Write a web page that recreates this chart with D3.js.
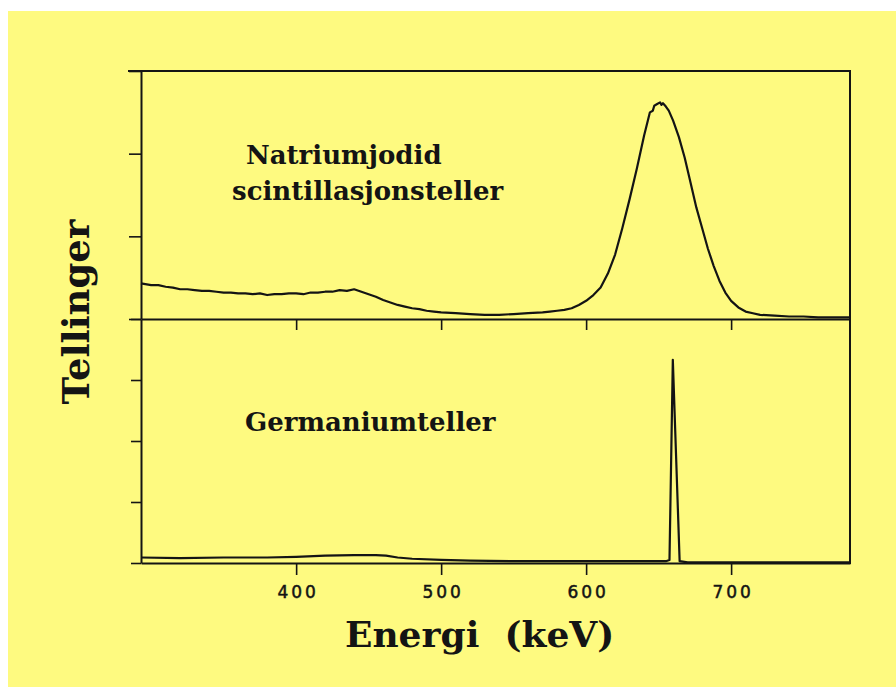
<!DOCTYPE html>
<html>
<head>
<meta charset="utf-8">
<script src="https://cdn.jsdelivr.net/npm/d3@7/dist/d3.min.js"></script>
<style>
  html, body { margin: 0; padding: 0; background: #ffffff; }
  svg { display: block; }
</style>
</head>
<body>
<script>
// NaI(Tl) scintillation spectrum (energy in keV, counts in relative units 0..3)
const naiEnergy = [293, 300, 305, 310, 315, 320, 325, 330, 335, 340, 345, 350, 355, 360, 365, 370, 375, 380, 385, 390,
  395, 400, 405, 410, 415, 420, 425, 430, 435, 440, 445, 450, 455, 460, 465, 470, 475, 480, 485, 490,
  495, 500, 510, 520, 530, 540, 550, 560, 570, 575, 580, 585, 590, 595, 600, 605, 610, 615, 620, 625,
  630, 635, 640, 644, 646, 647, 649, 651, 652, 653, 655, 657, 660, 664, 668, 672, 676, 680, 684, 688,
  692, 696, 700, 705, 710, 715, 720, 730, 740, 750, 760, 770, 782];
const naiCounts = [0.43, 0.41, 0.41, 0.39, 0.38, 0.36, 0.36, 0.35, 0.34, 0.34, 0.33, 0.32, 0.32, 0.31, 0.31, 0.30, 0.31, 0.29, 0.30, 0.30,
  0.31, 0.31, 0.30, 0.32, 0.32, 0.33, 0.33, 0.35, 0.34, 0.36, 0.33, 0.30, 0.27, 0.23, 0.20, 0.17, 0.15, 0.13, 0.12, 0.10,
  0.09, 0.08, 0.07, 0.06, 0.05, 0.05, 0.06, 0.07, 0.08, 0.09, 0.10, 0.11, 0.13, 0.17, 0.22, 0.29, 0.38, 0.55, 0.78, 1.10,
  1.45, 1.82, 2.22, 2.50, 2.52, 2.58, 2.60, 2.62, 2.59, 2.61, 2.57, 2.52, 2.40, 2.20, 1.95, 1.65, 1.35, 1.10, 0.85, 0.64,
  0.46, 0.32, 0.22, 0.14, 0.09, 0.07, 0.05, 0.04, 0.03, 0.03, 0.02, 0.02, 0.02];

// Germanium detector spectrum (relative units 0..4)
const geEnergy = [293, 320, 350, 380, 400, 420, 440, 455, 462, 470, 480, 500, 520, 550, 600, 640, 655, 657.5, 659.8, 664.5, 670, 700, 750, 782];
const geCounts = [0.09, 0.08, 0.09, 0.09, 0.10, 0.12, 0.13, 0.13, 0.12, 0.09, 0.07, 0.05, 0.04, 0.03, 0.03, 0.03, 0.03, 0.05, 3.33, 0.03, 0.01, 0.01, 0.01, 0.01];

const xTicks = [400, 500, 600, 700];
const naiTicks = [0, 1, 2, 3];
const geTicks = [0, 1, 2, 3, 4];

const W = 896, H = 687;
const plotL = 141, plotR = 850, plotT = 71, plotMid = 319, plotB = 563;
const ink = "#141414";

const svg = d3.select("body").append("svg").attr("width", W).attr("height", H);

svg.append("rect").attr("x", 8).attr("y", 11).attr("width", W - 8).attr("height", H - 11)
  .attr("fill", "#fefa80");

const x = d3.scaleLinear().domain([293, 782]).range([plotL, plotR]);
const yNai = d3.scaleLinear().domain([0, 3]).range([plotMid, plotT]);
const yGe = d3.scaleLinear().domain([0, 4]).range([plotB, plotMid]);

function styleAxis(g) {
  g.selectAll(".domain").attr("stroke", ink).attr("stroke-width", 2);
  g.selectAll(".tick line").attr("stroke", ink).attr("stroke-width", 1.6);
}

// left axes (unlabelled ticks)
svg.append("g").attr("transform", `translate(${plotL},0)`)
  .call(d3.axisLeft(yNai).tickValues(naiTicks).tickSize(12).tickSizeOuter(0).tickFormat(""))
  .call(styleAxis);
svg.append("g").attr("transform", `translate(${plotL},0)`)
  .call(d3.axisLeft(yGe).tickValues(geTicks).tickSize(10).tickSizeOuter(0).tickFormat(""))
  .call(styleAxis);

// divider between panels carries unlabelled energy ticks
svg.append("g").attr("transform", `translate(0,${plotMid})`)
  .call(d3.axisBottom(x).tickValues(xTicks).tickSize(11).tickSizeOuter(0).tickFormat(""))
  .call(styleAxis);

// bottom energy axis
const xAxis = svg.append("g").attr("transform", `translate(0,${plotB})`)
  .call(d3.axisBottom(x).tickValues(xTicks).tickSize(12).tickSizeOuter(0).tickPadding(11))
  .call(styleAxis);
xAxis.selectAll(".tick text")
  .attr("fill", ink)
  .attr("stroke", ink)
  .attr("stroke-width", 0.5)
  .attr("font-family", "'DejaVu Sans', sans-serif")
  .attr("font-size", 17)
  .attr("letter-spacing", "3px")
  .attr("dx", "1.5px");

// top and right frame edges
svg.append("line").attr("x1", 128).attr("x2", plotR).attr("y1", plotT).attr("y2", plotT)
  .attr("stroke", ink).attr("stroke-width", 2.2);
svg.append("line").attr("x1", plotR).attr("x2", plotR).attr("y1", plotT - 1).attr("y2", plotB + 1)
  .attr("stroke", ink).attr("stroke-width", 2);

// spectra
const naiLine = d3.line().x((d, i) => x(naiEnergy[i])).y(d => yNai(d)).curve(d3.curveLinear);
svg.append("path").datum(naiCounts).attr("d", naiLine)
  .attr("fill", "none").attr("stroke", ink).attr("stroke-width", 2.2).attr("stroke-linejoin", "round");

const geLine = d3.line().x((d, i) => x(geEnergy[i])).y(d => yGe(d)).curve(d3.curveLinear);
svg.append("path").datum(geCounts).attr("d", geLine)
  .attr("fill", "none").attr("stroke", ink).attr("stroke-width", 2.2).attr("stroke-linejoin", "round");

// labels
const serif = "'DejaVu Serif', serif";
function label(txt, px, py, size) {
  return svg.append("text").attr("x", px).attr("y", py).text(txt)
    .attr("font-family", serif).attr("font-weight", "bold").attr("font-size", size).attr("fill", ink);
}
label("Natriumjodid", 246, 164, 26);
label("scintillasjonsteller", 232, 200, 26);
label("Germaniumteller", 245, 431, 26);
label("Energi\u00a0 (keV)", 345, 647, 36);

svg.append("text").attr("transform", "translate(89,312) rotate(-90)")
  .attr("text-anchor", "middle").text("Tellinger")
  .attr("font-family", serif).attr("font-weight", "bold").attr("font-size", 37).attr("fill", ink);
</script>
</body>
</html>
